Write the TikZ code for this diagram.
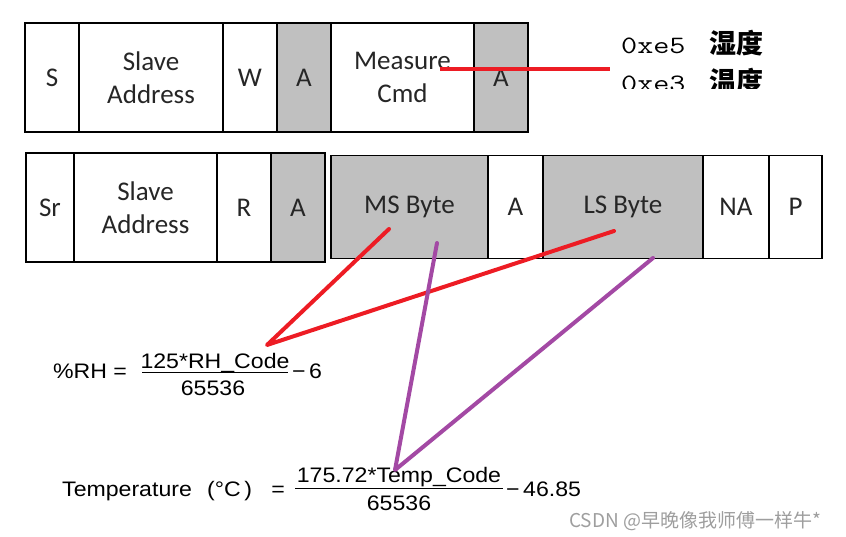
\documentclass[tikz,border=0pt]{standalone}
\usepackage{fontspec}
\setmainfont{Carlito}
\newfontfamily\eqfont[FakeStretch=1.1]{Liberation Sans}
\newfontfamily\cjkfont{Noto Sans CJK SC}
\definecolor{ackgray}{RGB}{192,192,192}
\definecolor{paintred}{RGB}{237,28,36}
\definecolor{paintpurple}{RGB}{163,73,164}
\newcommand{\hexword}[1]{\scalebox{1.25}[1]{#1}}

\begin{document}
\begin{tikzpicture}[
  x=1pt, y=-1pt,
  field/.style={draw, line width=1.1pt, inner sep=0pt, align=center, text=black!85, font=\fontsize{27}{33}\selectfont},
  ack/.style={field, fill=ackgray},
  eqtext/.style={inner sep=0pt, anchor=base, font=\eqfont\fontsize{21}{24}\selectfont},
  fracbar/.style={line width=0.8pt},
  hexlbl/.style={inner sep=0pt, anchor=base west, font=\ttfamily\fontsize{25}{28}\selectfont},
  cjklbl/.style={inner sep=0pt, anchor=base west, font=\cjkfont\bfseries\fontsize{27}{30}\selectfont},
  redline/.style={paintred, line width=4pt, line cap=round, line join=round},
  purpleline/.style={paintpurple, line width=4pt, line cap=round, line join=round},
]
  \useasboundingbox (0,0) rectangle (846,536);

  \foreach \l/\r/\st/\nm/\txt in {25/79/field/s/S, 79/223/field/saddr/Slave\\Address,
      223/277/field/w/W, 277/331/ack/acka/A, 331/474/field/cmd/Measure\\Cmd, 474/528/ack/ackb/A} {
    \node[\st, minimum width={\r-\l}, minimum height=109] (\nm) at ({(\l+\r)/2}, 77.5) {\txt};
  }

  \foreach \l/\r/\st/\nm/\txt in {26/74/field/sr/Sr, 74/217/field/saddrb/Slave\\Address,
      217/271/field/r/R, 271/325/ack/ackc/A} {
    \node[\st, minimum width={\r-\l}, minimum height=109] (\nm) at ({(\l+\r)/2}, 207.5) {\txt};
  }

  \foreach \l/\r/\st/\nm/\txt in {331/488/ack/msb/MS Byte, 488/543/field/ackd/A,
      543/703/ack/lsb/LS Byte, 703/769/field/na/NA, 769/822/field/p/P} {
    \node[\st, minimum width={\r-\l}, minimum height=103] (\nm) at ({(\l+\r)/2}, 207) {\txt};
  }

  \begin{scope}
    \clip (600,20) rectangle (846,88);
    \node[hexlbl] (hexhum)  at (621,53) {\hexword{0xe5}};
    \node[cjklbl] (hum)     at (709,53) {湿度};
    \node[hexlbl] (hextemp) at (621,91) {\hexword{0xe3}};
    \node[cjklbl] (temp)    at (709,91) {温度};
  \end{scope}

  \node[eqtext, anchor=base west] (rhlbl) at (53,378) {\%RH};
  \node[eqtext] (rheq)  at (120,378) {=};
  \node[eqtext] (rhnum) at (215,368) {125*RH\_Code};
  \node[eqtext] (rhden) at (213,395) {65536};
  \draw[fracbar] (142,372) -- (288,372);
  \node[eqtext, anchor=base west] (rhtail) at (292,378) {−\,6};

  \node[eqtext, anchor=base west] (tlbl) at (62,496) {Temperature};
  \node[eqtext, anchor=base west] (tunit) at (207,496) {(°C\,)};
  \node[eqtext] (teq)  at (278,496) {=};
  \node[eqtext] (tnum) at (399,482) {175.72*Temp\_Code};
  \node[eqtext] (tden) at (399,510) {65536};
  \draw[fracbar] (295,488) -- (503,488);
  \node[eqtext, anchor=base west] (ttail) at (506,496) {−\,46.85};

  \node[inner sep=0pt, anchor=base west, text=black!38, font=\cjkfont\fontsize{19}{21}\selectfont]
    (mark) at (569,527) {CSDN @早晚像我师傅一样牛*};

  \coordinate (cmdred) at (440,69);
  \coordinate (hexred) at (610,69);
  \coordinate (msred)  at (389,229);
  \coordinate (lsred)  at (614,231);
  \coordinate (rhtip)  at (267,345);
  \coordinate (mspur)  at (437,243);
  \coordinate (lspur)  at (653,258);
  \coordinate (ttip)   at (395,470);

  \draw[redline, line cap=butt] (cmdred) -- (hexred);
  \draw[redline] (msred) -- (rhtip) -- (lsred);
  \draw[purpleline] (mspur) -- (ttip) -- (lspur);
\end{tikzpicture}
\end{document}
